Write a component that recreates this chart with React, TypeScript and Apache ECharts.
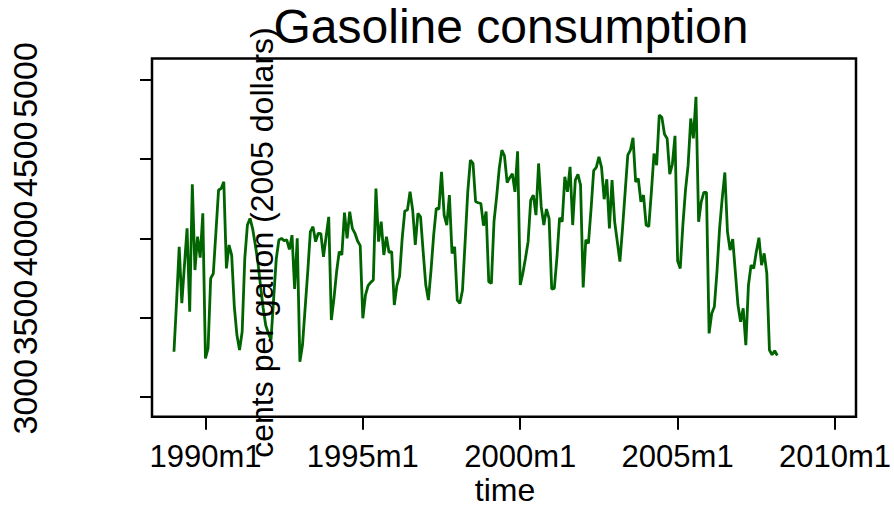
import React, { useEffect, useRef } from "react";
import * as echarts from "echarts";

// Monthly series, 1989m1 .. 2008m3 (cents per gallon, 2005 dollars)
const startYear = 1989;
const consumption: number[] = [
  3284, 3600, 3947, 3590, 3830, 4063, 3537, 4341, 3800, 4011, 3878, 4158,
  3242, 3305, 3747, 3778, 4040, 4305, 4315, 4357, 3810, 3958, 3894, 3571,
  3389, 3295, 3410, 3873, 4084, 4126, 4060, 3960, 3850, 3700, 3560, 3450,
  3400, 3360, 3620, 3870, 3990, 4000, 3985, 3990, 3930, 4020, 3680, 4000,
  3221, 3326, 3558, 3789, 4042, 4074, 3979, 4032, 4030, 3884, 4010, 4136,
  3484, 3621, 3789, 3916, 3895, 4162, 4000, 4168, 4063, 4032, 3983, 3954,
  3495, 3642, 3701, 3722, 3737, 4315, 3979, 4105, 3895, 4010, 3911, 3916,
  3579, 3705, 3760, 4000, 4173, 4179, 4294, 4179, 3958, 4158, 4136, 3916,
  3705, 3610, 3800, 4021, 4190, 4185, 4420, 4147, 4084, 4273, 3905, 3947,
  3610, 3589, 3674, 3979, 4294, 4494, 4473, 4231, 4225, 4220, 4080, 4170,
  3726, 3716, 4105, 4262, 4441, 4557, 4521, 4352, 4383, 4408, 4294, 4550,
  3705, 3779, 3874, 3979, 4241, 4273, 4147, 4473, 4200, 4084, 4185, 4126,
  3680, 3684, 3880, 4130, 4105, 4389, 4294, 4452, 4084, 4368, 4404, 4336,
  3690, 3990, 3968, 4185, 4427, 4448, 4515, 4448, 4247, 4373, 4063, 4368,
  4105, 3979, 3853, 4063, 4294, 4525, 4557, 4635, 4357, 4378, 4231, 4273,
  4084, 4074, 4294, 4536, 4462, 4778, 4764, 4658, 4631, 4405, 4468, 4647,
  3858, 3810, 4084, 4305, 4462, 4757, 4631, 4894, 4105, 4231, 4290, 4290,
  3400, 3526, 3568, 3789, 4063, 4252, 4416, 4042, 3926, 3995, 3789, 3579,
  3473, 3558, 3326, 3705, 3831, 3810, 3916, 4004, 3831, 3905, 3779, 3295,
  3265, 3290, 3260,
];

// Axis ticks: months since 1989m1, and values on the y axis
const xTickMonths: number[] = [12, 72, 132, 192, 252];
const yTickValues: number[] = [3000, 3500, 4000, 4500, 5000];

const titleText = "Gasoline consumption";
const xTitle = "time";
const yTitle = "cents per gallon (2005 dollars)";

const FONT = "'Liberation Sans', Arial, Helvetica, sans-serif";

const monthLabel = (m: number) => {
  const y = startYear + Math.floor(m / 12);
  const mo = (m % 12) + 1;
  return `${y}m${mo}`;
};

export default function App() {
  const ref = useRef<HTMLDivElement>(null);

  useEffect(() => {
    if (!ref.current) return;
    const chart = echarts.init(ref.current, undefined, { renderer: "svg" });
    const data = consumption.map((v, i) => [i, v]);

    chart.setOption({
      animation: false,
      backgroundColor: "#ffffff",
      title: {
        text: titleText,
        left: 506,
        top: -2.5,
        textAlign: "center",
        textStyle: {
          fontFamily: FONT,
          fontSize: 48,
          fontWeight: "normal",
          color: "#000",
        },
      },
      grid: {
        left: 152,
        right: 38,
        top: 58.5,
        bottom: 91.3,
        outerBoundsMode: "none",
        containLabel: false,
        show: true,
        borderColor: "#000",
        borderWidth: 2.5,
        backgroundColor: "transparent",
      },
      xAxis: {
        type: "value",
        min: -8.37,
        max: 260,
        splitLine: { show: false },
        axisLine: { show: false, onZero: false },
        axisTick: {
          show: true,
          length: 13,
          customValues: xTickMonths,
          lineStyle: { color: "#000", width: 2 },
        },
        axisLabel: {
          customValues: xTickMonths,
          formatter: (v: number) => monthLabel(v),
          margin: 24,
          hideOverlap: false,
          fontFamily: FONT,
          fontSize: 31,
          color: "#000",
        },
      },
      yAxis: {
        type: "value",
        min: 2873.7,
        max: 5135.8,
        splitLine: { show: false },
        axisLine: { show: false, onZero: false },
        axisTick: {
          show: true,
          length: 12,
          customValues: yTickValues,
          lineStyle: { color: "#000", width: 2 },
        },
        axisLabel: {
          customValues: yTickValues,
          formatter: (v: number) => String(v),
          rotate: 90,
          margin: 110,
          hideOverlap: false,
          fontFamily: FONT,
          fontSize: 34,
          color: "#000",
        },
      },
      graphic: [
        {
          type: "text",
          x: 261.5,
          y: 242.5,
          rotation: Math.PI / 2,
          z: 100,
          style: {
            text: yTitle,
            font: `32px ${FONT}`,
            fill: "#000",
            textAlign: "center",
            textVerticalAlign: "middle",
          },
        },
        {
          type: "text",
          x: 505,
          y: 490,
          z: 100,
          style: {
            text: xTitle,
            font: `32px ${FONT}`,
            fill: "#000",
            textAlign: "center",
            textVerticalAlign: "middle",
          },
        },
      ],
      series: [
        {
          type: "line",
          data,
          symbol: "none",
          lineStyle: { color: "#006400", width: 2.8 },
          z: 2,
        },
      ],
    });

    return () => chart.dispose();
  }, []);

  return (
    <div
      ref={ref}
      style={{ position: "fixed", left: 0, top: 0, width: 894, height: 508 }}
    />
  );
}
